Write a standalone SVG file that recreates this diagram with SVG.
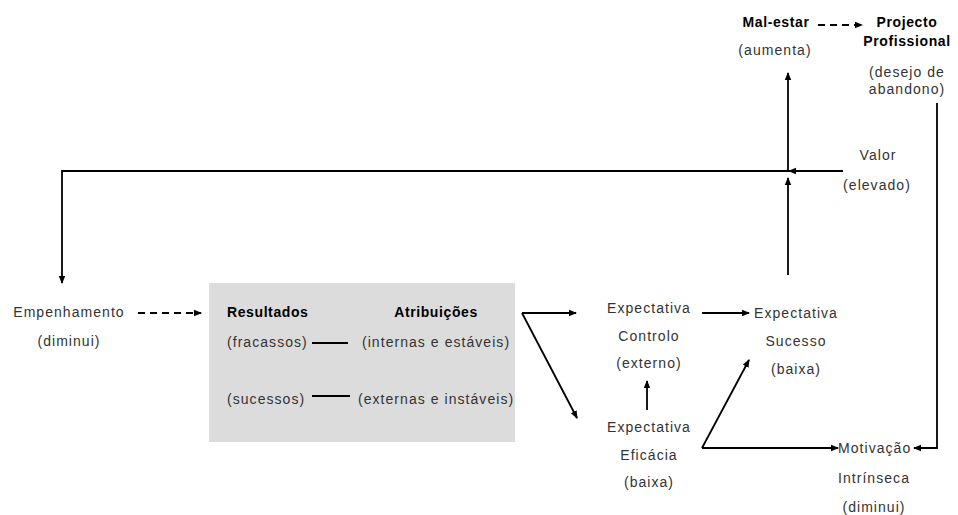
<svg xmlns="http://www.w3.org/2000/svg" width="958" height="515" viewBox="0 0 958 515">
<style>
text{font-family:"Liberation Sans",Arial,sans-serif;font-size:14px;fill:#333;letter-spacing:1.05px}
.b{font-weight:bold;fill:#000;letter-spacing:0.6px}
.m{text-anchor:middle}
.c{fill:none;stroke:#000;stroke-width:1.8}
.d{stroke-dasharray:7,5}
</style>
<defs>
<marker id="ah" markerWidth="8" markerHeight="8" viewBox="0 0 8 8" refX="7" refY="4" orient="auto" markerUnits="userSpaceOnUse">
<path d="M0,0.8 L8,4 L0,7.2 Z" fill="#000"/>
</marker>
</defs>
<rect id="box" x="209" y="283" width="306" height="159" fill="#dcdcdc"/>
<g id="connectors">
<path class="c d" d="M818,25 L862,25" marker-end="url(#ah)"/>
<path class="c" d="M788,170 L788,73" marker-end="url(#ah)"/>
<path class="c" d="M843,171 L789,171" marker-end="url(#ah)"/>
<path class="c" d="M789,171 L62,171 L62,283" marker-end="url(#ah)"/>
<path class="c" d="M788,275 L788,178" marker-end="url(#ah)"/>
<path class="c" d="M937,103 L937,448 L914,448" marker-end="url(#ah)"/>
<path class="c d" d="M138,313 L201,313" marker-end="url(#ah)"/>
<path class="c" d="M312,343 L348,343"/>
<path class="c" d="M312,396 L350,396"/>
<path class="c" d="M522,313 L576,313" marker-end="url(#ah)"/>
<path class="c" d="M522,313 L577,418" marker-end="url(#ah)"/>
<path class="c" d="M702,313 L749,313" marker-end="url(#ah)"/>
<path class="c" d="M647,410 L647,381" marker-end="url(#ah)"/>
<path class="c" d="M702,448 L749,360" marker-end="url(#ah)"/>
<path class="c" d="M702,448 L838,448" marker-end="url(#ah)"/>
</g>
<g id="malestar">
<text class="b m" x="776" y="27">Mal-estar</text>
<text class="m" x="775" y="55">(aumenta)</text>
</g>
<g id="projecto">
<text class="b m" x="907" y="27">Projecto</text>
<text class="b m" x="907" y="46">Profissional</text>
<text class="m" x="907" y="77">(desejo de</text>
<text class="m" x="907" y="94">abandono)</text>
</g>
<g id="valor">
<text class="m" x="878" y="160">Valor</text>
<text class="m" x="877" y="190">(elevado)</text>
</g>
<g id="empenhamento">
<text class="m" x="69" y="317">Empenhamento</text>
<text class="m" x="69" y="346">(diminui)</text>
</g>
<g id="resultados">
<text class="b" x="227" y="317">Resultados</text>
<text class="b m" x="436" y="317">Atribuições</text>
<text x="227" y="347">(fracassos)</text>
<text x="362" y="347">(internas e estáveis)</text>
<text x="227" y="404">(sucessos)</text>
<text x="358" y="404">(externas e instáveis)</text>
</g>
<g id="controlo">
<text class="m" x="649" y="313">Expectativa</text>
<text class="m" x="649" y="341">Controlo</text>
<text class="m" x="649" y="368">(externo)</text>
</g>
<g id="eficacia">
<text class="m" x="649" y="432">Expectativa</text>
<text class="m" x="649" y="460">Eficácia</text>
<text class="m" x="649" y="487">(baixa)</text>
</g>
<g id="sucesso">
<text class="m" x="796" y="318">Expectativa</text>
<text class="m" x="796" y="346">Sucesso</text>
<text class="m" x="796" y="374">(baixa)</text>
</g>
<g id="motivacao">
<text x="838" y="453">Motivação</text>
<text class="m" x="874" y="483">Intrínseca</text>
<text class="m" x="874" y="512">(diminui)</text>
</g>
</svg>
